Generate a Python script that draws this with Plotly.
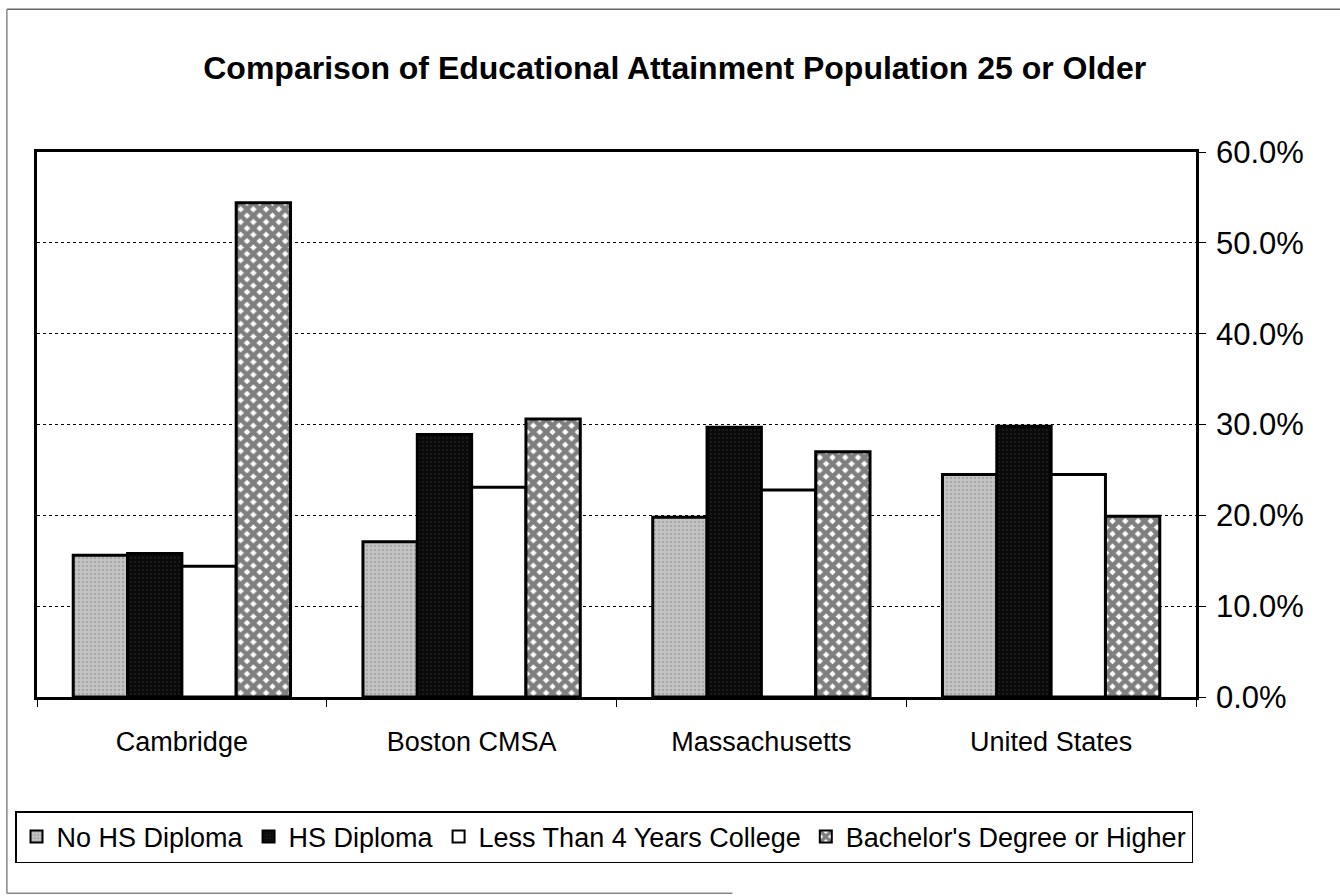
import plotly.graph_objects as go

categories = ["Cambridge", "Boston CMSA", "Massachusetts", "United States"]
series_names = ["No HS Diploma", "HS Diploma", "Less Than 4 Years College", "Bachelor's Degree or Higher"]
no_hs = [0.156, 0.171, 0.198, 0.245]
hs_diploma = [0.158, 0.289, 0.297, 0.298]
less_4yr = [0.144, 0.231, 0.228, 0.245]
bachelors = [0.544, 0.306, 0.270, 0.199]
y_ticks = [0.0, 0.1, 0.2, 0.3, 0.4, 0.5, 0.6]

FONT = "Liberation Sans, Arial, sans-serif"

styles = [
    dict(color="#c4c4c4", pattern=dict(shape=".", fgcolor="#8a8a8a", size=4, solidity=0.3)),
    dict(color="#0a0a0a", pattern=dict(shape=".", fgcolor="#333333", size=4, solidity=0.2)),
    dict(color="#ffffff"),
    dict(color="#ffffff", pattern=dict(shape="x", fgcolor="#000000", bgcolor="#ffffff", size=9, solidity=0.75)),
]

fig = go.Figure()
for name, vals, st in zip(series_names, [no_hs, hs_diploma, less_4yr, bachelors], styles):
    marker = dict(color=st["color"], line=dict(color="#000000", width=3))
    if "pattern" in st:
        marker["pattern"] = st["pattern"]
    fig.add_trace(go.Bar(name=name, x=categories, y=vals, marker=marker))

PW, PH = 1340 - 37 - 144, 896 - 152 - 199

fig.update_layout(
    width=1340, height=896,
    margin=dict(l=37, r=144, t=152, b=199),
    paper_bgcolor="#ffffff", plot_bgcolor="#ffffff",
    barmode="group", bargap=0.25, bargroupgap=0,
    font=dict(family=FONT, color="#000000", size=27),
    title=dict(text="<b>Comparison of Educational Attainment Population 25 or Older</b>",
               x=0.5035, xanchor="center", y=1 - 68 / 896, yanchor="middle",
               font=dict(family=FONT, size=32, color="#000000")),
    showlegend=True,
    legend=dict(orientation="h", xref="paper", yref="paper",
                x=(15 - 37) / PW, y=(697 - 811) / PH, xanchor="left", yanchor="top",
                bordercolor="#000000", borderwidth=1.5, bgcolor="#ffffff",
                font=dict(family=FONT, size=27, color="#000000"),
                itemsizing="constant", traceorder="normal"),
    xaxis=dict(showline=True, linecolor="#000000", linewidth=2.5, mirror=True,
               ticks="outside", tickson="boundaries", ticklen=7, tickcolor="#000000",
               showgrid=False, tickfont=dict(size=27), ticklabelstandoff=19),
    yaxis=dict(side="right", range=[0, 0.6], tickvals=y_ticks, tickformat=".1%",
               showline=True, linecolor="#000000", linewidth=2.5, mirror=True,
               ticks="outside", ticklen=7, tickcolor="#000000",
               showgrid=True, gridcolor="#000000", gridwidth=1, griddash="dot",
               zeroline=False, tickfont=dict(size=31), ticklabelstandoff=4),
    shapes=[
        dict(type="line", xref="paper", yref="paper", x0=-0.026, x1=1.13, y0=1.262, y1=1.262,
             line=dict(color="#666666", width=1.5)),
        dict(type="line", xref="paper", yref="paper", x0=-0.026, x1=-0.026, y0=1.262, y1=-0.36,
             line=dict(color="#888888", width=1.5)),
        dict(type="line", xref="paper", yref="paper", x0=-0.026, x1=0.6, y0=-0.36, y1=-0.36,
             line=dict(color="#888888", width=1.5)),
    ],
)

fig.write_html("out.html")
